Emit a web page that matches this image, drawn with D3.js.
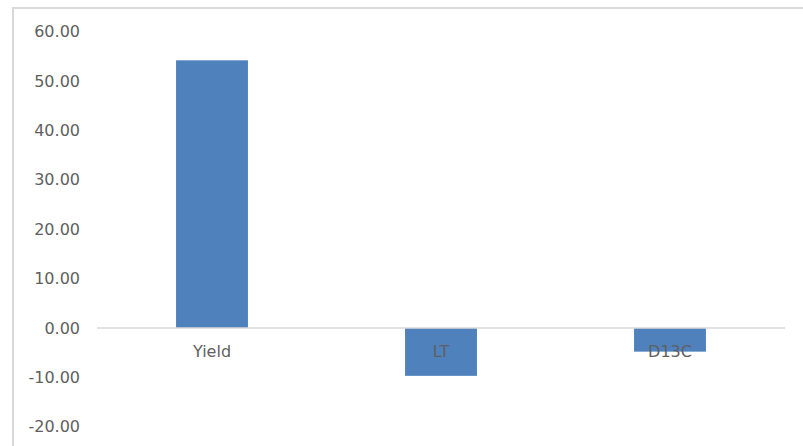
<!DOCTYPE html>
<html>
<head>
<meta charset="utf-8">
<script src="https://cdn.jsdelivr.net/npm/d3@7"></script>
<style>
  html, body { margin: 0; padding: 0; background: #fff; }
  svg { display: block; }
</style>
</head>
<body>
<svg id="chart" width="803" height="446"></svg>
<script>
// Chart data
const categories = ["Yield", "LT", "D13C"];
const values = [54.2, -9.7, -4.8];
const yTicks = [60, 50, 40, 30, 20, 10, 0, -10, -20];

const svg = d3.select("#chart");
const W = 803, H = 446;
const font = "'DejaVu Sans', sans-serif";
const textColor = "#606060";
const fontSize = 16;

// Chart-area frame (top and left edges visible)
svg.append("path")
  .attr("d", `M13,${H} L13,8 L${W},8`)
  .attr("fill", "none")
  .attr("stroke", "#d9d9d9")
  .attr("stroke-width", 2);

const y = d3.scaleLinear().domain([-20, 60]).range([426.7, 31.7]);
const x = d3.scaleBand().domain(categories).range([97.5, 784.5]).paddingInner(0.686).paddingOuter(0.343);

// Value axis labels (no axis line, no gridlines); plain hyphen for negatives
const fmt = d => d.toFixed(2);
const yAxis = d3.axisLeft(y).tickValues(yTicks).tickFormat(fmt).tickSize(0).tickPadding(0);
const gy = svg.append("g").attr("transform", "translate(80,0)").call(yAxis);
gy.select(".domain").remove();
gy.selectAll("text")
  .attr("fill", textColor)
  .attr("font-family", font)
  .attr("font-size", fontSize);

// Bars
svg.append("g").selectAll("rect")
  .data(categories.map((c, i) => ({ c, v: values[i] })))
  .join("rect")
  .attr("x", d => x(d.c))
  .attr("width", x.bandwidth())
  .attr("y", d => y(Math.max(0, d.v)))
  .attr("height", d => Math.abs(y(d.v) - y(0)))
  .attr("fill", "#4f81bd");

// Zero baseline
svg.append("line")
  .attr("x1", 97).attr("x2", 785)
  .attr("y1", y(0)).attr("y2", y(0))
  .attr("stroke", "#d9d9d9")
  .attr("stroke-width", 1.5);

// Category labels, drawn just below the baseline
svg.append("g").selectAll("text")
  .data(categories)
  .join("text")
  .attr("x", d => x(d) + x.bandwidth() / 2)
  .attr("y", y(0) + 29)
  .attr("text-anchor", "middle")
  .attr("fill", textColor)
  .attr("font-family", font)
  .attr("font-size", fontSize)
  .text(d => d);
</script>
</body>
</html>
